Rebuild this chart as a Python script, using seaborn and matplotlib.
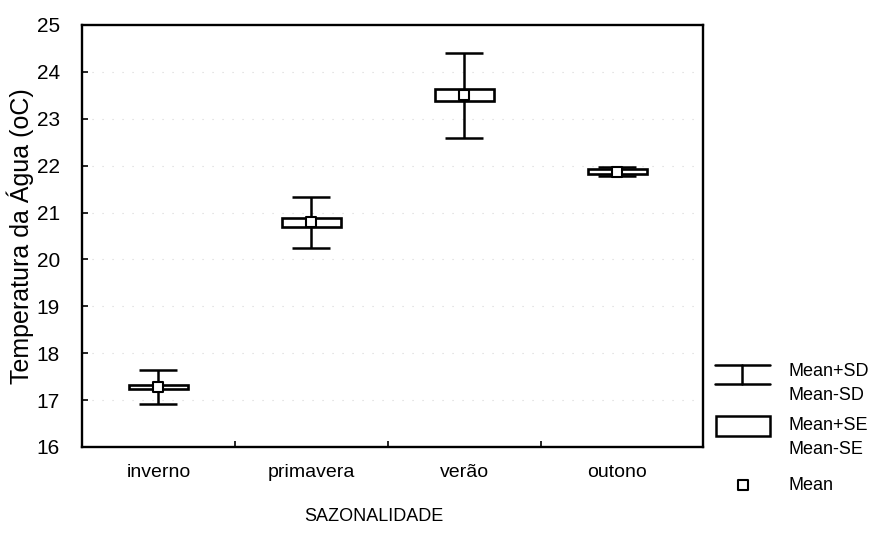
import matplotlib
matplotlib.use("Agg")
import matplotlib.pyplot as plt
from matplotlib.patches import Rectangle
from matplotlib.ticker import FixedLocator
import seaborn as sns
import pandas as pd

# Water temperature by season: mean, standard deviation and standard error
seasons = ["inverno", "primavera", "verão", "outono"]
mean_temp = [17.28, 20.79, 23.50, 21.87]
sd_temp = [0.37, 0.54, 0.90, 0.10]
se_temp = [0.05, 0.10, 0.13, 0.05]
y_ticks = [16, 17, 18, 19, 20, 21, 22, 23, 24, 25]

sns.set_theme(style="ticks")
plt.rcParams["font.family"] = ["Liberation Sans", "DejaVu Sans"]

df = pd.DataFrame({"season": seasons, "mean": mean_temp, "sd": sd_temp, "se": se_temp})
df["se_low"] = df["mean"] - df["se"]
df["se_span"] = 2 * df["se"]

W, H = 889, 543
fig = plt.figure(figsize=(W / 100, H / 100), dpi=100)
fig.patch.set_facecolor("white")
ax = fig.add_axes([82 / W, 1 - 447 / H, (703 - 82) / W, (447 - 25) / H])
ax.set_facecolor("white")

# faint dotted guide lines at each degree
for t in y_ticks[1:-1]:
    ax.axhline(t, color="0.84", linewidth=0.8, linestyle=(0, (1, 8)), zorder=0)

# mean +/- SD whiskers
ax.errorbar(df["season"], df["mean"], yerr=df["sd"], fmt="none", ecolor="black",
            elinewidth=1.8, capsize=14, capthick=1.8, zorder=2)
# mean +/- SE boxes
ax.bar(df["season"], df["se_span"], bottom=df["se_low"], width=0.39,
       facecolor="white", edgecolor="black", linewidth=1.9, zorder=3)
# mean markers
sns.scatterplot(data=df, x="season", y="mean", marker="s", s=52, color="white",
                edgecolor="black", linewidth=1.5, zorder=4, ax=ax, legend=False)

ax.set_xlim(-0.5, 3.56)
ax.set_ylim(16, 25)
ax.set_yticks(y_ticks)
ax.set_yticklabels([str(t) for t in y_ticks])
ax.xaxis.set_minor_locator(FixedLocator([0.5, 1.5, 2.5]))
ax.tick_params(axis="x", which="major", length=0, pad=12, labelsize=14, colors="black")
ax.tick_params(axis="x", which="minor", length=4, width=1.2, direction="in", color="black")
ax.tick_params(axis="y", which="major", length=4, width=1.2, direction="in", pad=16,
               labelsize=15, colors="black")
for s in ax.spines.values():
    s.set_visible(True)
    s.set_color("black")
    s.set_linewidth(1.7)

ax.set_xlabel("SAZONALIDADE", fontsize=13, color="black", labelpad=18)
ax.xaxis.set_label_coords(0.47, -0.145)
ax.set_ylabel("Temperatura da Água (oC)", fontsize=18, color="black", labelpad=2)

# legend panel, laid out in figure pixels
lax = fig.add_axes([0, 0, 1, 1])
lax.set_xlim(0, W)
lax.set_ylim(H, 0)
lax.axis("off")
lw = 1.8
lax.plot([715, 770], [365, 365], color="black", linewidth=lw)
lax.plot([715, 770], [384, 384], color="black", linewidth=lw)
lax.plot([742, 742], [365, 384], color="black", linewidth=lw)
lax.add_patch(Rectangle((716, 416), 54, 20, facecolor="white", edgecolor="black", linewidth=lw))
lax.scatter([743], [485], marker="s", s=52, color="white", edgecolors="black", linewidths=1.5)
fs = 13
for txt, yy in [("Mean+SD", 372), ("Mean-SD", 396), ("Mean+SE", 426), ("Mean-SE", 450), ("Mean", 485)]:
    lax.text(789, yy, txt, fontsize=fs, va="center", ha="left", color="black")

fig.savefig("out.png", dpi=100, facecolor="white")
